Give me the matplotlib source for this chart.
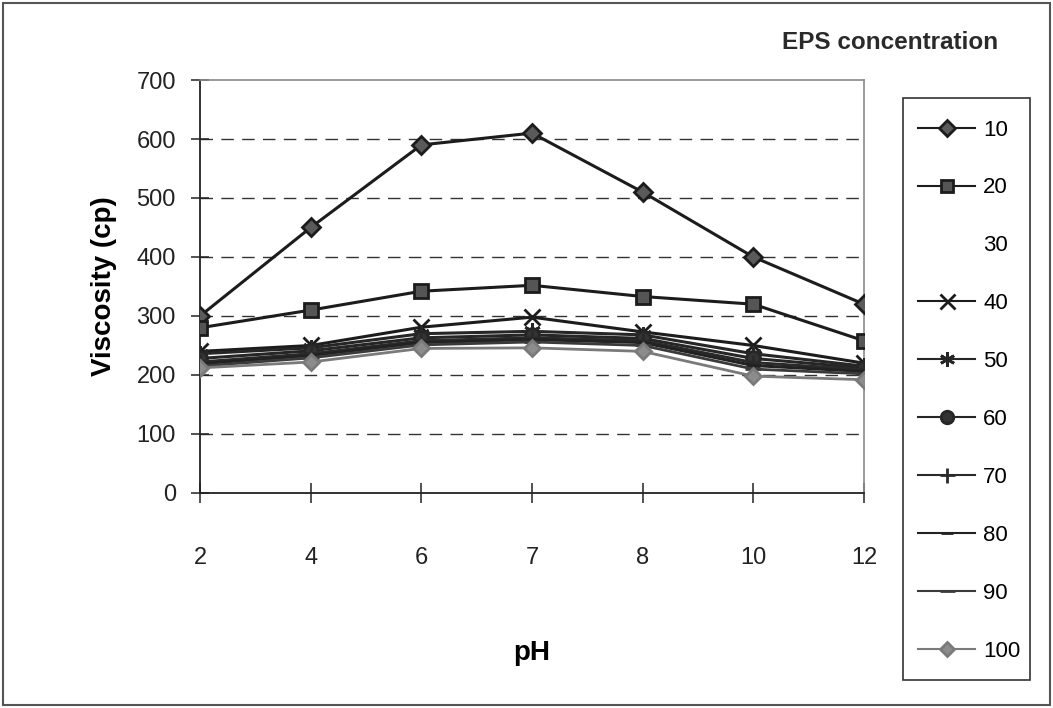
import numpy as np
import matplotlib
matplotlib.use("Agg")
import matplotlib.pyplot as plt
from matplotlib.patches import Rectangle

plt.rcParams['font.family'] = ['Liberation Sans', 'DejaVu Sans']

# pH values are plotted as evenly spaced categories
ph_labels = ['2', '4', '6', '7', '8', '10', '12']

# viscosity (cp) for each EPS concentration
visc_10 = [300, 450, 590, 610, 510, 400, 320]
visc_20 = [280, 310, 342, 352, 333, 320, 258]
visc_30 = [None] * 7
visc_40 = [240, 250, 281, 298, 273, 250, 220]
visc_50 = [236, 246, 270, 274, 268, 236, 215]
visc_60 = [228, 241, 263, 268, 262, 228, 212]
visc_70 = [222, 236, 258, 263, 258, 221, 209]
visc_80 = [219, 233, 255, 260, 255, 216, 206]
visc_90 = [215, 229, 251, 256, 250, 210, 202]
visc_100 = [212, 222, 245, 246, 240, 198, 192]

conc_labels = ['10', '20', '30', '40', '50', '60', '70', '80', '90', '100']
series = [visc_10, visc_20, visc_30, visc_40, visc_50,
          visc_60, visc_70, visc_80, visc_90, visc_100]

# line / marker look per series: (line colour, marker, marker size, face, line width)
styles = [
    ('#1c1c1c', 'D', 9, '#5a5a5a', 2.2),
    ('#1c1c1c', 's', 10, '#555555', 2.2),
    ('none', None, 0, 'none', 0),
    ('#1c1c1c', 'x', 12, '#1c1c1c', 2.2),
    ('#262626', (6, 2, 0), 12, '#262626', 2.2),
    ('#262626', 'o', 10, '#333333', 2.2),
    ('#2a2a2a', '+', 12, '#2a2a2a', 2.2),
    ('#222222', '_', 10, '#222222', 2.2),
    ('#3a3a3a', '_', 12, '#3a3a3a', 2.0),
    ('#7a7a7a', 'D', 8, '#8c8c8c', 2.0),
]

fig = plt.figure(figsize=(10.53, 7.08), dpi=100)
ax = fig.add_axes([0.190, 0.3037, 0.6305, 0.5833])

x = np.arange(len(ph_labels))
handles = []
for vals, lab, (col, mk, ms, face, lw) in zip(series, conc_labels, styles):
    y = np.array([np.nan if v is None else v for v in vals], dtype=float)
    if mk is None:
        h, = ax.plot(x, y, linestyle='none', marker=None, label=lab)
    else:
        h, = ax.plot(x, y, color=col, lw=lw, marker=mk, markersize=ms,
                     markerfacecolor=face, markeredgecolor=col,
                     markeredgewidth=2.0, label=lab, zorder=3)
    handles.append(h)

ax.set_xlim(0, len(ph_labels) - 1)
ax.set_ylim(0, 700)
ax.set_xticks(x)
ax.set_xticklabels(ph_labels)
ax.set_yticks(np.arange(0, 701, 100))

# dashed horizontal gridlines between the axis and the top frame
for yv in range(100, 700, 100):
    ax.axhline(yv, color='#333333', lw=1.0, dashes=(9, 6), zorder=1)

for side in ['top', 'right']:
    ax.spines[side].set_color('#8a8a8a')
    ax.spines[side].set_linewidth(1.2)
for side in ['left', 'bottom']:
    ax.spines[side].set_color('#222222')
    ax.spines[side].set_linewidth(1.3)

ax.tick_params(axis='x', direction='inout', length=14, width=1.1, pad=32,
               labelsize=17, colors='#222222')
ax.tick_params(axis='y', direction='inout', length=13, width=1.1, pad=11,
               labelsize=17, colors='#222222')

ax.set_ylabel('Viscosity (cp)', fontsize=20, fontweight='bold')
ax.yaxis.set_label_coords(-0.125, 0.5)
ax.set_xlabel('pH', fontsize=20, fontweight='bold')
ax.xaxis.set_label_coords(0.5, -0.355)

fig.text(0.948, 0.940, 'EPS concentration', fontsize=17.5, fontweight='bold',
         ha='right', va='center', color='#2a2a2a')

# legend entries without their own frame; the box is drawn separately
leg = fig.legend(handles=handles, labels=conc_labels, loc='upper left',
                 bbox_to_anchor=(918 / 1053, 1 - 119.5 / 708), borderaxespad=0,
                 borderpad=0, fontsize=16, frameon=False,
                 handlelength=2.57, handletextpad=0.36, labelspacing=1.66)
# legend keys use a thinner line than the plotted series
for ln in leg.get_lines():
    ln.set_linewidth(1.5)
    ln.set_markersize(ln.get_markersize() * 0.9)

fig.patches.append(Rectangle((903 / 1053, 1 - 680 / 708), 127 / 1053, 582 / 708,
                             transform=fig.transFigure, fill=False,
                             edgecolor='#333333', lw=1.2))

# frame round the whole chart
fig.patches.append(Rectangle((0.003, 0.004), 0.994, 0.992, transform=fig.transFigure,
                             fill=False, edgecolor='#555555', lw=1.5))

fig.savefig('out.png', dpi=100)
